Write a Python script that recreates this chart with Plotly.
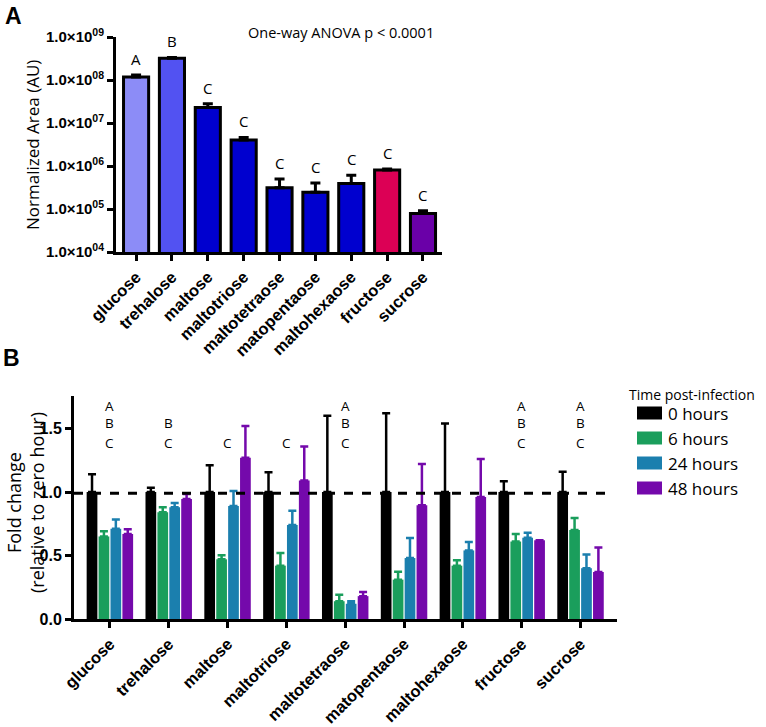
import math
import plotly.graph_objects as go

# ---- data ----
sugars = ["glucose", "trehalose", "maltose", "maltotriose", "maltotetraose",
          "matopentaose", "maltohexaose", "fructose", "sucrose"]

# panel A: normalized area (AU), mean and upper error
area = [1.17e8, 3.2e8, 2.3e7, 4.0e6, 3.1e5, 2.45e5, 3.9e5, 8.1e5, 7.9e4]
area_err = [1.3e7, 1.5e7, 5.0e6, 6.0e5, 1.9e5, 1.55e5, 2.2e5, 4.0e4, 1.2e4]
area_colors = ["#8c8cf7", "#5252f2", "#0000cf", "#0000cf", "#0000cf",
               "#0000cf", "#0000cf", "#dc0055", "#6a00a8"]
area_letters = ["A", "B", "C", "C", "C", "C", "C", "C", "C"]
area_tickvals = [1e4, 1e5, 1e6, 1e7, 1e8, 1e9]
area_ticktext = ["1.0×10<sup>04</sup>", "1.0×10<sup>05</sup>", "1.0×10<sup>06</sup>",
                 "1.0×10<sup>07</sup>", "1.0×10<sup>08</sup>", "1.0×10<sup>09</sup>"]

# panel B: fold change relative to zero hour
times = ["0 hours", "6 hours", "24 hours", "48 hours"]
time_colors = ["#000000", "#1a9e5c", "#1b7fae", "#7409ab"]
fold = [
    [1.0, 1.0, 1.0, 1.0, 1.0, 1.0, 1.0, 1.0, 1.0],
    [0.65, 0.84, 0.47, 0.42, 0.14, 0.31, 0.42, 0.61, 0.70],
    [0.71, 0.88, 0.89, 0.74, 0.12, 0.48, 0.54, 0.64, 0.40],
    [0.67, 0.945, 1.27, 1.09, 0.18, 0.895, 0.96, 0.62, 0.37],
]
fold_err = [
    [0.14, 0.034, 0.21, 0.155, 0.60, 0.62, 0.54, 0.084, 0.16],
    [0.04, 0.04, 0.032, 0.10, 0.05, 0.063, 0.043, 0.06, 0.095],
    [0.073, 0.034, 0.118, 0.112, 0.019, 0.157, 0.066, 0.04, 0.108],
    [0.036, 0.039, 0.25, 0.268, 0.033, 0.325, 0.30, 0.0, 0.193],
]
fold_letters = ["ABC", "BC", "C", "C", "ABC", "", "", "ABC", "ABC"]
fold_ticks = [0, 0.5, 1.0, 1.5]
ref_line = 0.99

W, H = 766, 727
LABEL_FONT = "Open Sans, Noto Sans, sans-serif"
AXIS_FONT = "Liberation Sans, Arial, sans-serif"

fig = go.Figure()

# panel A
fig.add_trace(go.Bar(
    x=sugars, y=area, width=0.7,
    marker=dict(color=area_colors, line=dict(color="black", width=3)),
    error_y=dict(type="data", symmetric=False, array=area_err,
                 arrayminus=[0] * len(area), color="black", thickness=3, width=5),
    xaxis="x", yaxis="y", showlegend=False,
))

# panel B
for name, col, vals, errs in zip(times, time_colors, fold, fold_err):
    fig.add_trace(go.Bar(
        x=sugars, y=vals, name=name,
        marker=dict(color=col, line=dict(width=0)),
        error_y=dict(type="data", symmetric=False, array=errs,
                     arrayminus=[0] * len(vals), color=col, thickness=2.5, width=4),
        xaxis="x2", yaxis="y2", showlegend=False,
    ))

annotations = []

# letters panel A
for s, v, e, t in zip(sugars, area, area_err, area_letters):
    annotations.append(dict(
        x=s, y=math.log10(v + e), xref="x", yref="y", text=t, showarrow=False,
        xanchor="center", yanchor="bottom", yshift=4,
        font=dict(family=LABEL_FONT, size=15, color="black"),
    ))

# letters panel B
row_y = {"A": 1.677, "B": 1.543, "C": 1.386}
for s, letters in zip(sugars, fold_letters):
    for ch in letters:
        annotations.append(dict(
            x=s, y=row_y[ch], xref="x2", yref="y2", text=ch, showarrow=False,
            xanchor="center", yanchor="middle", borderpad=0,
            font=dict(family=LABEL_FONT, size=13.5, color="black"),
        ))


def paper_text(px, py, text, size, family=LABEL_FONT, angle=0, xanchor="center"):
    return dict(x=px / W, y=1 - py / H, xref="paper", yref="paper", text=text,
                textangle=angle, showarrow=False, xanchor=xanchor, yanchor="middle",
                font=dict(family=family, size=size, color="black"))


annotations += [
    paper_text(13, 16, "<b>A</b>", 23, AXIS_FONT),
    paper_text(12, 358, "<b>B</b>", 23, AXIS_FONT),
    paper_text(341, 32, "One-way ANOVA p < 0.0001", 14.5),
    paper_text(32, 145, "Normalized Area (AU)", 17, angle=-90),
    paper_text(25, 503, "Fold change<br>(relative to zero hour)", 18, angle=-90),
    paper_text(627, 394, "Time post-infection", 14, xanchor="left"),
]

shapes = [
    dict(type="line", xref="x2 domain", yref="y2", x0=0, x1=0.99,
         y0=ref_line, y1=ref_line, line=dict(color="black", width=3, dash="dash")),
]

# legend for panel B
for i, (name, col) in enumerate(zip(times, time_colors)):
    yc = 413 + 25 * i
    shapes.append(dict(type="rect", xref="paper", yref="paper",
                       x0=637 / W, x1=662 / W, y0=1 - (yc + 6.5) / H, y1=1 - (yc - 6.5) / H,
                       fillcolor=col, line=dict(width=0)))
    annotations.append(paper_text(666, yc, name, 17, xanchor="left"))

axis_common = dict(showline=True, linecolor="black", linewidth=3, ticks="outside",
                   tickcolor="black", tickwidth=2.5, ticklen=6, showgrid=False,
                   zeroline=False, automargin=False)

fig.update_layout(
    width=W, height=H,
    margin=dict(l=0, r=0, t=0, b=0),
    paper_bgcolor="white", plot_bgcolor="white",
    barmode="group", bargap=0.19, bargroupgap=0.1,
    xaxis=dict(domain=[116 / W, 442 / W], range=[-0.56, 8.53], anchor="y",
               tickangle=-45, tickfont=dict(family=AXIS_FONT, size=16.5, color="black"),
               tickprefix="<b>", ticksuffix="</b>", **axis_common),
    yaxis=dict(domain=[1 - 252 / H, 1 - 37 / H], type="log", range=[4, 9], anchor="x",
               tickvals=area_tickvals, ticktext=["<b>" + t + "</b>" for t in area_ticktext],
               tickfont=dict(family=AXIS_FONT, size=15, color="black"), **axis_common),
    xaxis2=dict(domain=[74 / W, 617 / W], range=[-0.61, 8.62], anchor="y2",
                tickangle=-45, tickfont=dict(family=AXIS_FONT, size=16.5, color="black"),
                tickprefix="<b>", ticksuffix="</b>", **axis_common),
    yaxis2=dict(domain=[1 - 619 / H, 1 - 396 / H], range=[0, 1.756], anchor="x2",
                tickvals=fold_ticks, ticktext=["<b>%.1f</b>" % t for t in fold_ticks],
                tickfont=dict(family=AXIS_FONT, size=16, color="black"), **axis_common),
    annotations=annotations,
    shapes=shapes,
)

fig.write_html("out.html", config={"displayModeBar": False},
               post_script="document.body.style.margin='0';")
